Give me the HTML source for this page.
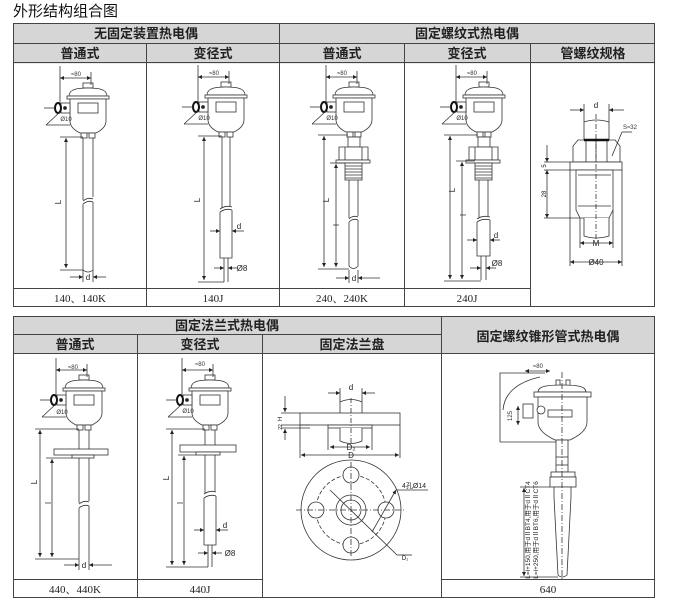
<!DOCTYPE html>
<html><head><meta charset="utf-8"><style>
html,body{margin:0;padding:0;background:#fff;width:673px;height:603px;overflow:hidden}
svg{display:block}
.h{font-family:"Liberation Sans","Noto Sans CJK SC",sans-serif;font-weight:bold;font-size:13px;fill:#222;text-anchor:middle}
.f{font-family:"Liberation Serif","Noto Serif CJK SC",serif;font-size:11px;fill:#222;text-anchor:middle}
.s{font-family:"Liberation Sans",sans-serif;font-size:6px;fill:#333;text-anchor:middle}
.m{font-family:"Liberation Sans",sans-serif;font-size:8px;fill:#222;text-anchor:middle}
</style></head><body>
<svg width="673" height="603" viewBox="0 0 673 603" xmlns="http://www.w3.org/2000/svg">
<defs>
<marker id="a" viewBox="0 0 6 6" refX="6" refY="3" markerWidth="5" markerHeight="5" orient="auto-start-reverse"><path d="M0,0L6,3L0,6z" fill="#222"/></marker>
<g id="head" fill="#fff" stroke="#333" stroke-width="0.8">
<rect x="-5" y="-5" width="10" height="5"/>
<path d="M-19,8C-19,1 -10,0 0,0C10,0 19,1 19,8Z"/>
<rect x="-21" y="8" width="42" height="3"/>
<path d="M-18,11L18,11L18,33Q18,40 8,45L-8,45Q-18,40 -18,33Z"/>
<rect x="-10" y="15" width="20" height="10"/>
<rect x="-7" y="45" width="6" height="5"/><rect x="1" y="45" width="6" height="5"/>
<rect x="-27" y="15" width="9" height="10"/>
<ellipse cx="-30" cy="20" rx="3" ry="5" stroke-width="2" stroke="#111"/>
<circle cx="-23" cy="20" r="1.5" fill="#222"/>
<line x1="-44" y1="20" x2="-33" y2="20"/>
<line x1="-28" y1="24" x2="-42" y2="37"/><line x1="-42" y1="37" x2="-18" y2="37"/>
<line x1="-28" y1="-22" x2="-28" y2="15"/><line x1="3" y1="-16" x2="3" y2="-3"/>
<line x1="-28" y1="-10" x2="3" y2="-10" marker-start="url(#a)" marker-end="url(#a)"/>
</g>
</defs>
<text x="13" y="16" font-family="Liberation Sans,Noto Sans CJK SC,sans-serif" font-size="15" fill="#111">外形结构组合图</text>

<!-- TOP TABLE -->
<rect x="13.5" y="23.5" width="641" height="40" fill="#d6d6d6"/>
<g stroke="#444" stroke-width="1" fill="none">
<rect x="13.5" y="23.5" width="641" height="283"/>
<line x1="13" y1="43.5" x2="655" y2="43.5"/>
<line x1="13" y1="62.5" x2="655" y2="62.5"/>
<line x1="146.5" y1="43" x2="146.5" y2="307"/>
<line x1="279.5" y1="23" x2="279.5" y2="307"/>
<line x1="404.5" y1="43" x2="404.5" y2="307"/>
<line x1="530.5" y1="43" x2="530.5" y2="307"/>
<line x1="13" y1="288.5" x2="530" y2="288.5"/>
</g>
<text class="h" x="146" y="38">无固定装置热电偶</text>
<text class="h" x="467" y="38">固定螺纹式热电偶</text>
<text class="h" x="80" y="58">普通式</text>
<text class="h" x="213" y="58">变径式</text>
<text class="h" x="342" y="58">普通式</text>
<text class="h" x="467" y="58">变径式</text>
<text class="h" x="593" y="58">管螺纹规格</text>
<text class="f" x="80" y="302">140、140K</text>
<text class="f" x="213" y="302">140J</text>
<text class="f" x="342" y="302">240、240K</text>
<text class="f" x="467" y="302">240J</text>

<g stroke="#333" stroke-width="0.8" fill="#fff">
<!-- 140 -->
<use href="#head" x="88" y="88"/>
<path d="M83,138V200M93,138V197M83,204V270Q88,274 93,270V202"/>
<path d="M83,201Q88,197 93,199M83,204Q88,200 93,202" fill="none"/>
<line x1="60" y1="137" x2="83" y2="137"/>
<line x1="66" y1="138" x2="66" y2="268" marker-start="url(#a)" marker-end="url(#a)"/>
<line x1="60" y1="270" x2="83" y2="270"/>
<line x1="70" y1="277" x2="83" y2="277" marker-end="url(#a)"/><line x1="106" y1="277" x2="93" y2="277" marker-end="url(#a)"/>
<line x1="93" y1="270" x2="93" y2="282"/><line x1="83" y1="270" x2="83" y2="282"/>
<!-- 140J -->
<use href="#head" x="226" y="87"/>
<path d="M222,137V208M230,137V206M220,212V258H232V210M224,258V282M228,258V282"/>
<path d="M220,209Q226,205 232,207M220,212Q226,208 232,210" fill="none"/>
<line x1="198" y1="136" x2="222" y2="136"/>
<line x1="204" y1="137" x2="204" y2="280" marker-start="url(#a)" marker-end="url(#a)"/>
<line x1="198" y1="282" x2="224" y2="282"/>
<line x1="210" y1="231" x2="220" y2="231" marker-end="url(#a)"/><line x1="244" y1="231" x2="232" y2="231" marker-end="url(#a)"/>
<line x1="214" y1="268" x2="224" y2="268" marker-end="url(#a)"/><line x1="238" y1="268" x2="228" y2="268" marker-end="url(#a)"/>
<!-- 240 -->
<use href="#head" x="354" y="87"/>
<rect x="348" y="137" width="12" height="10"/>
<path d="M339,147H368V160H339Z"/>
<line x1="345" y1="147" x2="345" y2="160"/><line x1="362" y1="147" x2="362" y2="160"/>
<rect x="336" y="160" width="34" height="3"/>
<rect x="345" y="163" width="17" height="17"/>
<path d="M345,166H362M345,169H362M345,172H362M345,175H362M345,178H362" fill="none"/>
<path d="M349,180V218M358,180V216M349,222V266Q353.5,271 358,266V220"/>
<path d="M349,219Q353,215 358,217M349,222Q353,218 358,220" fill="none"/>
<line x1="318" y1="135" x2="348" y2="135"/>
<line x1="324" y1="136" x2="324" y2="267" marker-start="url(#a)" marker-end="url(#a)"/>
<line x1="330" y1="163" x2="345" y2="163"/>
<line x1="336" y1="164" x2="336" y2="267" marker-start="url(#a)" marker-end="url(#a)"/>
<line x1="318" y1="269" x2="349" y2="269"/>
<line x1="336" y1="278" x2="349" y2="278" marker-end="url(#a)"/><line x1="380" y1="278" x2="358" y2="278" marker-end="url(#a)"/>
<line x1="349" y1="270" x2="349" y2="283"/><line x1="358" y1="270" x2="358" y2="283"/>
<!-- 240J -->
<use href="#head" x="484" y="87"/>
<rect x="478" y="137" width="12" height="10"/>
<path d="M469,147H498V160H469Z"/>
<line x1="475" y1="147" x2="475" y2="160"/><line x1="492" y1="147" x2="492" y2="160"/>
<rect x="466" y="160" width="34" height="3"/>
<rect x="475" y="163" width="17" height="17"/>
<path d="M475,166H492M475,169H492M475,172H492M475,175H492M475,178H492" fill="none"/>
<path d="M479,180V218M488,180V216M477,222V256H490V220M481,256V280M486,256V280"/>
<path d="M477,219Q483,215 490,217M477,222Q483,218 490,220" fill="none"/>
<line x1="444" y1="135" x2="478" y2="135"/>
<line x1="450" y1="136" x2="450" y2="279" marker-start="url(#a)" marker-end="url(#a)"/>
<line x1="456" y1="161" x2="475" y2="161"/>
<line x1="462" y1="162" x2="462" y2="279" marker-start="url(#a)" marker-end="url(#a)"/>
<line x1="444" y1="281" x2="481" y2="281"/>
<line x1="467" y1="240" x2="477" y2="240" marker-end="url(#a)"/><line x1="500" y1="240" x2="490" y2="240" marker-end="url(#a)"/>
<line x1="470" y1="268" x2="481" y2="268" marker-end="url(#a)"/><line x1="496" y1="268" x2="486" y2="268" marker-end="url(#a)"/>
<!-- pipe thread -->
<path d="M584,140V122Q596,118 609,122V140"/>
<path d="M573,162V146L578,140H615L620,146V162Z"/>
<line x1="586" y1="140" x2="586" y2="162"/><line x1="596" y1="140" x2="596" y2="162"/><line x1="607" y1="140" x2="607" y2="162"/>
<line x1="584" y1="140" x2="609" y2="140" stroke-width="2.5" stroke="#111"/>
<rect x="570" y="162" width="52" height="8"/>
<path d="M576,170H613V210L609,218H580L576,210Z"/>
<line x1="578" y1="175" x2="611" y2="175"/><line x1="578" y1="206" x2="611" y2="206"/>
<path d="M584,218V236Q596,240 609,236V218"/>
<line x1="596" y1="114" x2="596" y2="240" stroke-dasharray="5,2,1,2"/>
<line x1="584" y1="104" x2="584" y2="122"/><line x1="609" y1="104" x2="609" y2="122"/>
<line x1="570" y1="110" x2="584" y2="110" marker-end="url(#a)"/><line x1="624" y1="110" x2="609" y2="110" marker-end="url(#a)"/>
<line x1="612" y1="156" x2="622" y2="132"/><line x1="622" y1="132" x2="632" y2="132"/>
<line x1="544" y1="162" x2="570" y2="162"/><line x1="544" y1="170" x2="570" y2="170"/><line x1="544" y1="218" x2="580" y2="218"/>
<line x1="547" y1="145" x2="547" y2="162" marker-end="url(#a)"/>
<line x1="547" y1="170" x2="547" y2="218" marker-start="url(#a)" marker-end="url(#a)"/>
<line x1="580" y1="218" x2="580" y2="248"/><line x1="613" y1="210" x2="613" y2="248"/>
<line x1="580" y1="243" x2="613" y2="243" marker-start="url(#a)" marker-end="url(#a)"/>
<line x1="570" y1="170" x2="570" y2="266"/><line x1="622" y1="170" x2="622" y2="266"/>
<line x1="570" y1="262" x2="622" y2="262" marker-start="url(#a)" marker-end="url(#a)"/>
</g>
<g class="s">
<text x="76" y="76">≈80</text><text x="214" y="75">≈80</text><text x="342" y="75">≈80</text><text x="472" y="75">≈80</text>
<text x="66" y="121">Ø10</text><text x="204" y="120">Ø10</text><text x="332" y="120">Ø10</text><text x="462" y="120">Ø10</text>
<text x="630" y="129">S≈32</text>
</g>
<g class="m">
<text x="61" y="202" transform="rotate(-90 61 202)">L</text>
<text x="200" y="200" transform="rotate(-90 200 200)">L</text>
<text x="329" y="200" transform="rotate(-90 329 200)">L</text>
<text x="339" y="225" transform="rotate(-90 339 225)">l</text>
<text x="455" y="190" transform="rotate(-90 455 190)">L</text>
<text x="466" y="215" transform="rotate(-90 466 215)">l</text>
<text x="88" y="280">d</text><text x="354" y="281">d</text>
<text x="239" y="229">d</text><text x="496" y="238">d</text>
<text x="242" y="271">Ø8</text><text x="497" y="266">Ø8</text>
<text x="596" y="108">d</text><text x="596" y="246">M</text><text x="596" y="265">Ø40</text>
<text x="544" y="168" font-size="6" transform="rotate(-90 544 166)">5</text>
<text x="544" y="196" font-size="6" transform="rotate(-90 544 194)">28</text>
</g>

<!-- BOTTOM TABLE -->
<rect x="13.5" y="316.5" width="641" height="37" fill="#d6d6d6"/>
<g stroke="#444" stroke-width="1" fill="none">
<rect x="13.5" y="316.5" width="641" height="281"/>
<line x1="13" y1="334.5" x2="441" y2="334.5"/>
<line x1="13" y1="353.5" x2="655" y2="353.5"/>
<line x1="137.5" y1="334" x2="137.5" y2="598"/>
<line x1="262.5" y1="334" x2="262.5" y2="598"/>
<line x1="441.5" y1="316" x2="441.5" y2="598"/>
<line x1="13" y1="579.5" x2="262" y2="579.5"/>
<line x1="441" y1="579.5" x2="655" y2="579.5"/>
</g>
<text class="h" x="227" y="330">固定法兰式热电偶</text>
<text class="h" x="548" y="341">固定螺纹锥形管式热电偶</text>
<text class="h" x="75" y="349">普通式</text>
<text class="h" x="200" y="349">变径式</text>
<text class="h" x="352" y="349">固定法兰盘</text>
<text class="f" x="75" y="593">440、440K</text>
<text class="f" x="200" y="593">440J</text>
<text class="f" x="548" y="593">640</text>

<g stroke="#333" stroke-width="0.8" fill="#fff">
<!-- 440 -->
<use href="#head" x="84" y="380"/>
<path d="M79,430V503M89,430V501M79,508V560M89,506V560"/>
<path d="M79,504Q84,500 89,502M79,508Q84,504 89,506" fill="none"/>
<rect x="54" y="449" width="54" height="6"/><rect x="72" y="455" width="22" height="3"/>
<line x1="35" y1="429" x2="79" y2="429"/>
<line x1="40" y1="430" x2="40" y2="557" marker-start="url(#a)" marker-end="url(#a)"/>
<line x1="46" y1="458" x2="72" y2="458"/>
<line x1="52" y1="459" x2="52" y2="557" marker-start="url(#a)" marker-end="url(#a)"/>
<line x1="35" y1="559" x2="79" y2="559"/>
<line x1="64" y1="565" x2="79" y2="565" marker-end="url(#a)"/><line x1="112" y1="565" x2="89" y2="565" marker-end="url(#a)"/>
<line x1="79" y1="560" x2="79" y2="570"/><line x1="89" y1="560" x2="89" y2="570"/>
<!-- 440J -->
<use href="#head" x="210" y="380"/>
<path d="M205,430V493M215,430V491M204,498V545H216V496M208,545V567M212,545V567"/>
<path d="M204,494Q210,490 216,492M204,498Q210,494 216,496" fill="none"/>
<rect x="180" y="445" width="56" height="7"/><rect x="196" y="452" width="24" height="3"/>
<line x1="166" y1="429" x2="205" y2="429"/>
<line x1="172" y1="430" x2="172" y2="565" marker-start="url(#a)" marker-end="url(#a)"/>
<line x1="178" y1="455" x2="196" y2="455"/>
<line x1="184" y1="456" x2="184" y2="565" marker-start="url(#a)" marker-end="url(#a)"/>
<line x1="166" y1="567" x2="208" y2="567"/>
<line x1="194" y1="530" x2="204" y2="530" marker-end="url(#a)"/><line x1="228" y1="530" x2="216" y2="530" marker-end="url(#a)"/>
<line x1="198" y1="553" x2="208" y2="553" marker-end="url(#a)"/><line x1="222" y1="553" x2="212" y2="553" marker-end="url(#a)"/>
<!-- flange side -->
<path d="M340,413V402Q351,397 362,402V413"/>
<rect x="300" y="413" width="100" height="12"/>
<rect x="328" y="425" width="44" height="3"/>
<path d="M340,428V441Q351,446 362,441V428"/>
<line x1="351" y1="398" x2="351" y2="447" stroke-dasharray="5,2,1,2"/>
<line x1="340" y1="388" x2="340" y2="402"/><line x1="362" y1="388" x2="362" y2="402"/>
<line x1="328" y1="393" x2="340" y2="393" marker-end="url(#a)"/><line x1="375" y1="393" x2="362" y2="393" marker-end="url(#a)"/>
<line x1="328" y1="428" x2="328" y2="450"/><line x1="372" y1="428" x2="372" y2="450"/>
<line x1="330" y1="447" x2="370" y2="447" marker-start="url(#a)" marker-end="url(#a)"/>
<line x1="300" y1="425" x2="300" y2="458"/><line x1="400" y1="425" x2="400" y2="458"/>
<line x1="301" y1="455" x2="399" y2="455" marker-start="url(#a)" marker-end="url(#a)"/>
<line x1="281" y1="413" x2="300" y2="413"/><line x1="281" y1="425" x2="310" y2="425"/><line x1="281" y1="428" x2="310" y2="428"/>
<line x1="285" y1="396" x2="285" y2="412" marker-end="url(#a)"/>
<line x1="285" y1="440" x2="285" y2="429" marker-end="url(#a)"/>
<!-- flange front -->
<circle cx="351" cy="510" r="50"/>
<circle cx="351" cy="510" r="35" fill="none" stroke-dasharray="4,2"/>
<circle cx="351" cy="475" r="8"/><circle cx="351" cy="545" r="8"/>
<circle cx="316" cy="510" r="8"/><circle cx="386" cy="510" r="8"/>
<circle cx="351" cy="510" r="15"/><circle cx="351" cy="510" r="10"/>
<line x1="296" y1="510" x2="406" y2="510" stroke-dasharray="6,2,1,2"/>
<line x1="351" y1="462" x2="351" y2="558" stroke-dasharray="6,2,1,2"/>
<line x1="330" y1="490" x2="397" y2="555" fill="none"/>
<line x1="397" y1="555" x2="412" y2="555"/>
<line x1="372" y1="532" x2="396" y2="490" marker-end="url(#a)"/>
<line x1="396" y1="490" x2="428" y2="490"/>
<!-- 640 -->
<rect x="556" y="380" width="4" height="7"/><rect x="566" y="380" width="4" height="7"/>
<path d="M538,392C538,386 548,385 562,385C576,385 586,386 586,392Z"/>
<rect x="534" y="392" width="57" height="5"/>
<path d="M538,397H587V422Q587,432 570,440H555Q538,432 538,422Z"/>
<rect x="548" y="410" width="24" height="7"/>
<circle cx="541" cy="410" r="4"/>
<rect x="523" y="404" width="10" height="14"/>
<rect x="556" y="440" width="12" height="32"/>
<line x1="556" y1="457" x2="568" y2="457"/><line x1="556" y1="465" x2="568" y2="465"/>
<rect x="551" y="472" width="24" height="5"/><rect x="550" y="477" width="26" height="10"/>
<path d="M554,487H571V497L567,575Q562,579 558,575L554,497Z"/>
<line x1="562" y1="372" x2="562" y2="580" stroke-dasharray="6,2,1,2"/>
<path d="M500,442V373H545" fill="none"/>
<path d="M503,410Q505,385 540,377" fill="none"/>
<line x1="500" y1="442" x2="556" y2="442"/>
<line x1="520" y1="487" x2="550" y2="487"/>
<line x1="520" y1="577" x2="558" y2="577"/>
<line x1="524" y1="488" x2="524" y2="576" marker-start="url(#a)" marker-end="url(#a)"/>
<line x1="518" y1="406" x2="518" y2="425" marker-start="url(#a)" marker-end="url(#a)"/>
<line x1="525" y1="371" x2="550" y2="371" marker-start="url(#a)" marker-end="url(#a)"/>
</g>
<g class="s">
<text x="73" y="369">≈80</text><text x="200" y="366">≈80</text>
<text x="62" y="414">Ø10</text><text x="188" y="413">Ø10</text>
<text x="538" y="368">≈80</text>
<text x="510" y="418" transform="rotate(-90 510 416)">125</text>
</g>
<g class="m">
<text x="35" y="484" transform="rotate(-90 35 482)">L</text>
<text x="49" y="505" transform="rotate(-90 49 503)">l</text>
<text x="167" y="480" transform="rotate(-90 167 478)">L</text>
<text x="181" y="505" transform="rotate(-90 181 503)">l</text>
<text x="84" y="568">d</text>
<text x="225" y="528">d</text><text x="230" y="556">Ø8</text>
<text x="351" y="390">d</text><text x="351" y="450">D₂</text><text x="351" y="458">D</text>
<text x="281" y="420" font-size="6" transform="rotate(-90 281 419)">H</text>
<text x="281" y="428" font-size="5" transform="rotate(-90 281 427)">22</text>
<text x="414" y="488" font-size="7">4孔Ø14</text>
<text x="405" y="560" font-size="6">D₁</text>
<text x="530" y="530" font-size="6.5" transform="rotate(-90 530 530)" font-family="Liberation Sans,Noto Sans CJK SC,sans-serif">L=l+150,用于dⅡBT4,用于dⅡCT4</text>
<text x="538" y="530" font-size="6.5" transform="rotate(-90 538 530)" font-family="Liberation Sans,Noto Sans CJK SC,sans-serif">L=l+250,用于dⅡBT6,用于dⅡCT6</text>
</g>
</svg>
</body></html>
